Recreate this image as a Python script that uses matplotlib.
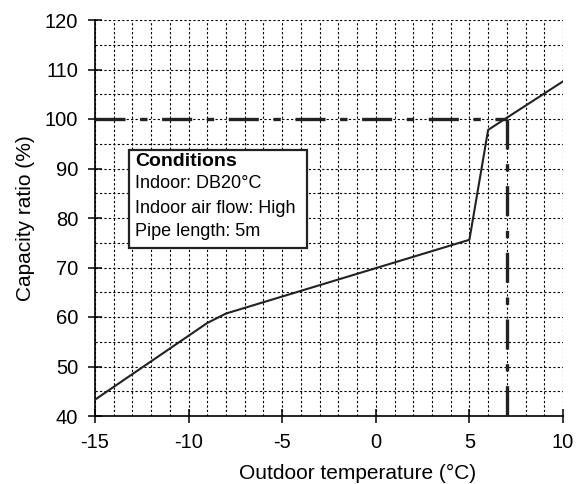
import numpy as np
import matplotlib.pyplot as plt

temps = [-15, -9, -8, 5, 6, 10]
ratio = [43.3, 58.8, 60.7, 75.6, 97.8, 107.6]
rated_temp = 7
rated_ratio = 100

plt.rcParams['font.family'] = ['Liberation Sans', 'DejaVu Sans']
plt.rcParams['axes.unicode_minus'] = False

fig = plt.figure(figsize=(5.87, 4.84), dpi=100)
ax = fig.add_axes([95/587, 68/484, 468/587, 396/484])

ax.set_xlim(-15, 10)
ax.set_ylim(40, 120)
ax.set_xticks(np.arange(-15, 11, 5))
ax.set_yticks(np.arange(40, 121, 10))
ax.set_xticks(np.arange(-15, 11, 1), minor=True)
ax.set_yticks(np.arange(40, 121, 5), minor=True)
ax.grid(which='both', color='black', linestyle=(0, (2, 2)), linewidth=0.8)
ax.tick_params(which='major', direction='inout', length=10, width=1.1, labelsize=14.5, pad=7)
ax.tick_params(which='minor', length=0)
for s in ['top', 'right']:
    ax.spines[s].set_visible(False)
ax.spines['left'].set_linewidth(1.2)
ax.spines['bottom'].set_linewidth(1.2)

ax.plot(temps, ratio, color='#222222', linewidth=1.5, zorder=4)
dashdot = (0, (9, 4.4, 2.2, 4.4))
ax.plot([-15, rated_temp], [rated_ratio, rated_ratio], color='#222222', linewidth=2.4,
        linestyle=dashdot, zorder=3)
ax.plot([rated_temp, rated_temp], [rated_ratio, 40], color='#222222', linewidth=2.4,
        linestyle=dashdot, zorder=3)

ax.set_xlabel('Outdoor temperature (°C)', fontsize=15, labelpad=9, x=0.56)
ax.set_ylabel('Capacity ratio (%)', fontsize=15, labelpad=7)

ax.text(-12.85, 91.5, 'Conditions', fontsize=14, fontweight='bold', va='center', zorder=6)
lines = ['Indoor: DB20°C', 'Indoor air flow: High', 'Pipe length: 5m']
ys = [86.9, 82.0, 77.2]
for t, y in zip(lines, ys):
    ax.text(-12.85, y, t, fontsize=13, va='center', zorder=6)
box = plt.Rectangle((-13.2, 73.9), 9.55, 19.8, facecolor='white', edgecolor='#222222',
                    linewidth=1.6, zorder=5)
ax.add_patch(box)

fig.savefig('out.png', dpi=100)
